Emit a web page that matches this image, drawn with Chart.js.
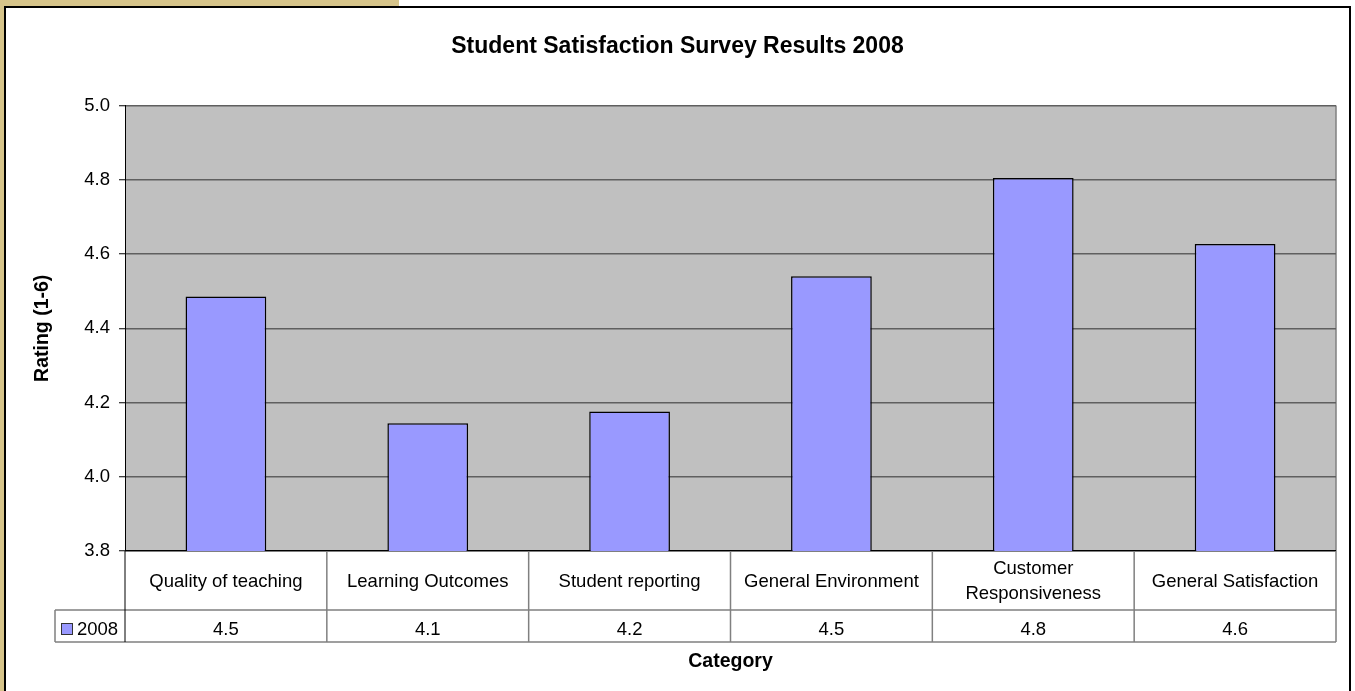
<!DOCTYPE html>
<html>
<head>
<meta charset="utf-8">
<title>Student Satisfaction Survey Results 2008</title>
<script src="https://cdn.jsdelivr.net/npm/chart.js@4.4.1/dist/chart.umd.min.js"></script>
<style>
    body { margin: 0; background: #fff; overflow: hidden; }
    .tab { position: absolute; left: 0; top: 0; width: 399px; height: 6px; background: #d6c48a; }
    .side { position: absolute; left: 0; top: 0; width: 4px; height: 691px; background: #d6c48a; }
    .frame { position: absolute; left: 4px; top: 6px; width: 1343px; height: 720px; border: 2px solid #000; }
    #survey { position: absolute; left: 0; top: 0; }
</style>
</head>
<body>
<div class="tab"></div>
<div class="side"></div>
<div class="frame"></div>
<canvas id="survey" width="1355" height="691"></canvas>
<script>
const categories = ['Quality of teaching', 'Learning Outcomes', 'Student reporting',
    'General Environment', ['Customer', 'Responsiveness'], 'General Satisfaction'];
const seriesName = '2008';
const ratings2008 = [4.486, 4.144, 4.176, 4.54, 4.805, 4.627];
const yTicks = [3.8, 4.0, 4.2, 4.4, 4.6, 4.8, 5.0];

const FONT = "'Liberation Sans', Arial, sans-serif";
const BAR = '#9999ff';

Chart.defaults.font.family = FONT;
Chart.defaults.color = '#000';

// grey plot area plus its right edge
const plotBackground = {
    id: 'plotBackground',
    beforeDraw(chart) {
        const { ctx, chartArea: a } = chart;
        ctx.save();
        ctx.fillStyle = '#c0c0c0';
        ctx.fillRect(a.left, a.top, a.width, a.height);
        ctx.strokeStyle = '#808080';
        ctx.lineWidth = 1.5;
        ctx.beginPath();
        ctx.moveTo(a.right, a.top);
        ctx.lineTo(a.right, a.bottom);
        ctx.stroke();
        ctx.restore();
    }
};

// data table under the plot (category names + values), then the axis title
const dataTable = {
    id: 'dataTable',
    afterDraw(chart) {
        const { ctx, chartArea: a } = chart;
        const x = chart.scales.x;
        const step = x.width / categories.length;
        const rowTop = a.bottom, rowMid = a.bottom + 59, rowBot = a.bottom + 91;
        const legendLeft = 55;

        ctx.save();
        ctx.strokeStyle = '#808080';
        ctx.lineWidth = 1.5;
        ctx.beginPath();
        ctx.moveTo(legendLeft, rowMid); ctx.lineTo(a.right, rowMid);
        ctx.moveTo(legendLeft, rowBot); ctx.lineTo(a.right, rowBot);
        ctx.moveTo(legendLeft, rowMid); ctx.lineTo(legendLeft, rowBot);
        for (let i = 1; i <= categories.length; i++) {
            const edge = x.getPixelForValue(i) - step / 2;
            ctx.moveTo(edge, rowTop); ctx.lineTo(edge, rowBot);
        }
        ctx.stroke();

        ctx.strokeStyle = '#000';
        ctx.lineWidth = 1;
        ctx.beginPath();
        ctx.moveTo(a.left, rowTop); ctx.lineTo(a.left, rowBot);
        ctx.stroke();

        ctx.fillStyle = '#000';
        ctx.font = '18.5px ' + FONT;
        ctx.textAlign = 'center';
        ctx.textBaseline = 'middle';
        categories.forEach((label, i) => {
            const cx = x.getPixelForValue(i);
            const lines = Array.isArray(label) ? label : [label];
            const lh = 25;
            const y0 = (rowTop + rowMid) / 2 + 1 - (lines.length - 1) * lh / 2;
            lines.forEach((ln, j) => ctx.fillText(ln, cx, y0 + j * lh));
            ctx.fillText(ratings2008[i].toFixed(1), cx, (rowMid + rowBot) / 2 + 4);
        });

        // series key
        ctx.fillStyle = BAR;
        ctx.fillRect(61.5, 623.5, 11, 11);
        ctx.strokeStyle = '#333';
        ctx.lineWidth = 1;
        ctx.strokeRect(61.5, 623.5, 11, 11);
        ctx.fillStyle = '#000';
        ctx.textAlign = 'left';
        ctx.fillText(seriesName, 77, (rowMid + rowBot) / 2 + 4);

        ctx.font = 'bold 19.5px ' + FONT;
        ctx.textAlign = 'center';
        ctx.fillText('Category', (a.left + a.right) / 2, rowBot + 20);
        ctx.restore();
    }
};

new Chart(document.getElementById('survey'), {
    type: 'bar',
    data: {
        labels: categories,
        datasets: [{
            label: seriesName,
            data: ratings2008,
            backgroundColor: BAR,
            borderColor: '#000',
            borderWidth: 1.5,
            borderSkipped: 'bottom',
            categoryPercentage: 1,
            barPercentage: 0.4
        }]
    },
    options: {
        responsive: false,
        animation: false,
        layout: { padding: { left: 19, right: 19, top: 0, bottom: 140 } },
        plugins: {
            legend: { display: false },
            tooltip: { enabled: false },
            title: {
                display: true,
                text: 'Student Satisfaction Survey Results 2008',
                color: '#000',
                font: { size: 23, weight: 'bold' },
                padding: { top: 33, bottom: 45 }
            }
        },
        scales: {
            x: { display: false },
            y: {
                min: yTicks[0],
                max: yTicks[yTicks.length - 1],
                afterFit(scale) { scale.width = 106; },
                afterBuildTicks(scale) { scale.ticks = yTicks.map(v => ({ value: v })); },
                ticks: {
                    padding: 9,
                    color: '#000',
                    font: { size: 18.5 },
                    callback: v => Number(v).toFixed(1)
                },
                grid: {
                    color: c => c.index === 0 ? '#000' : '#5f5f5f',
                    lineWidth: 1.5,
                    tickLength: 6,
                    tickColor: '#000',
                    tickWidth: 1
                },
                border: { display: true, color: '#000', width: 1 },
                title: {
                    display: true,
                    text: 'Rating (1-6)',
                    color: '#000',
                    font: { size: 19.5, weight: 'bold' },
                    padding: { top: 12, bottom: 0 }
                }
            }
        }
    },
    plugins: [plotBackground, dataTable]
});
</script>
</body>
</html>
